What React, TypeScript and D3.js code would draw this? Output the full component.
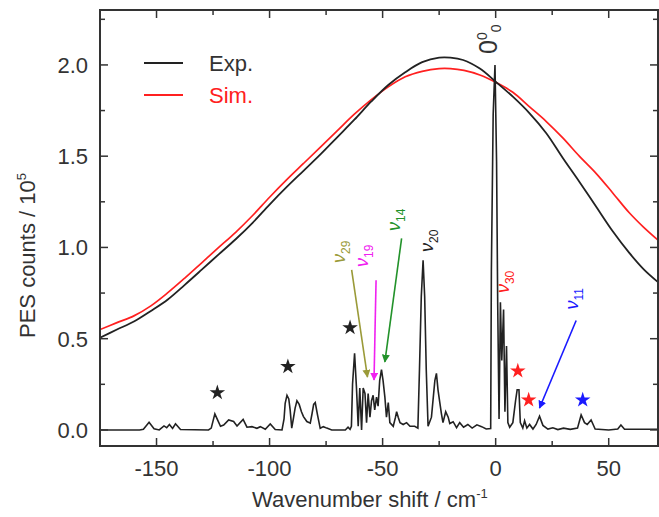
import React from 'react';
import * as d3 from 'd3';

// Axis ticks
const xMajorTicks = [-150, -100, -50, 0, 50];
const xMinorTicks = [-125, -75, -25, 25];
const yMajorTicks = [0, 0.5, 1.0, 1.5, 2.0];
const yMinorTicks = [0.25, 0.75, 1.25, 1.75, 2.25];

// Broad envelopes: [wavenumber shift, counts / 1e5]
const expEnvelope: [number, number][] = [
  [-175, 0.505], [-167.5, 0.55], [-160, 0.594], [-152.5, 0.652], [-145, 0.715], [-137.5, 0.795],
  [-130, 0.878], [-122.5, 0.962], [-115, 1.045], [-107.5, 1.135], [-100, 1.235], [-92.5, 1.33],
  [-85, 1.42], [-77.5, 1.51], [-70, 1.605], [-62.5, 1.7], [-55, 1.8], [-47.5, 1.89],
  [-40, 1.96], [-32.5, 2.015], [-25, 2.04], [-20, 2.04], [-14.4, 2.027], [-7, 1.98],
  [0, 1.908], [7.6, 1.826], [15, 1.735], [22.4, 1.626], [29.7, 1.49], [37, 1.36],
  [44.4, 1.224], [51.7, 1.09], [59.1, 0.97], [65.5, 0.88], [71.8, 0.81],
];

const simEnvelope: [number, number][] = [
  [-175, 0.55], [-167.5, 0.588], [-160, 0.625], [-152.5, 0.68], [-145, 0.752], [-137.5, 0.832],
  [-130, 0.916], [-122.5, 1.0], [-115, 1.083], [-107.5, 1.175], [-100, 1.275], [-92.5, 1.37],
  [-85, 1.46], [-77.5, 1.55], [-70, 1.64], [-62.5, 1.73], [-55, 1.81], [-47.5, 1.88],
  [-40, 1.935], [-32.5, 1.965], [-25, 1.98], [-20, 1.98], [-14, 1.97], [-7, 1.945],
  [0, 1.905], [7.6, 1.85], [15, 1.77], [22.4, 1.69], [29.7, 1.6], [37, 1.5],
  [44.4, 1.406], [51.7, 1.3], [59.1, 1.19], [65.5, 1.11], [71.8, 1.04],
];

// High-resolution photoelectron spectrum
const pesSpectrum: [number, number][] = [
  [-175, 0.0], [-157.5, 0.0], [-155.8, 0.004], [-153.3, 0.042], [-151.1, 0.006], [-148.8, 0.0],
  [-146.7, 0.022], [-145.5, 0.012], [-144.3, 0.03], [-142.9, 0.008], [-141.6, 0.034], [-139.4, 0.002],
  [-127, 0.0], [-125.8, 0.01], [-124.2, 0.088], [-122.8, 0.05], [-121.7, 0.02], [-120.3, 0.027],
  [-118.1, 0.055], [-115.9, 0.046], [-114.4, 0.022], [-111.7, 0.058], [-110.0, 0.015], [-107.8, 0.018],
  [-105.6, 0.009], [-104.1, 0.018], [-101.9, 0.004], [-99.7, 0.033], [-97.5, 0.002], [-94.5, 0.0],
  [-93.6, 0.06], [-93.1, 0.146], [-92.3, 0.19], [-91.5, 0.17], [-90.9, 0.11], [-90.2, 0.01],
  [-89.5, 0.06], [-88.7, 0.12], [-87.9, 0.16], [-86.9, 0.14], [-85.9, 0.1], [-85.0, 0.073],
  [-83.5, 0.046], [-82.0, 0.037], [-81.2, 0.09], [-80.5, 0.14], [-79.8, 0.15], [-78.8, 0.082],
  [-77.6, 0.009], [-76.2, 0.018], [-74.7, 0.01], [-72.5, 0.0], [-66.5, 0.0], [-65.3, 0.015],
  [-64.4, 0.003], [-63.8, 0.02], [-63.3, 0.25], [-62.4, 0.42], [-61.6, 0.24], [-60.8, 0.02],
  [-60.1, 0.23], [-59.3, 0.0], [-58.6, 0.23], [-57.8, 0.2], [-57.1, 0.04], [-56.4, 0.2],
  [-55.6, 0.07], [-54.9, 0.16], [-54.2, 0.19], [-53.5, 0.11], [-52.7, 0.18], [-52.0, 0.13],
  [-51.3, 0.27], [-50.5, 0.33], [-49.8, 0.27], [-49.0, 0.18], [-48.3, 0.07], [-47.5, 0.15],
  [-46.8, 0.04], [-45.3, 0.02], [-44.3, 0.07], [-43.8, 0.1], [-43.1, 0.07], [-42.3, 0.04],
  [-40.9, 0.03], [-39.4, 0.04], [-37.9, 0.02], [-35.8, 0.02], [-34.4, 0.01], [-33.7, 0.33],
  [-32.9, 0.73], [-32.1, 0.93], [-31.4, 0.73], [-30.7, 0.33], [-29.9, 0.02], [-28.4, 0.07],
  [-26.9, 0.27], [-26.2, 0.31], [-25.5, 0.22], [-24.7, 0.15], [-24.0, 0.09], [-23.3, 0.04],
  [-22.1, 0.1], [-21.0, 0.07], [-20.3, 0.035], [-18.8, 0.045], [-17.3, 0.012], [-15.9, 0.04],
  [-14.2, 0.015], [-12.3, 0.03], [-10.4, 0.01], [-8.3, 0.028], [-6.2, 0.018], [-4.2, 0.005],
  [-2.2, 0.008], [-1.9, 0.87], [-1.1, 1.73], [-0.3, 2.0], [0.4, 1.47], [0.9, 0.69],
  [1.5, 0.06], [2.1, 0.7], [2.7, 0.38], [3.5, 0.66], [4.1, 0.1], [4.8, 0.46],
  [5.4, 0.04], [6.2, 0.015], [7.6, 0.04], [8.8, 0.16], [9.5, 0.22], [10.3, 0.22],
  [10.9, 0.04], [12.0, 0.01], [12.8, 0.05], [13.8, 0.01], [15.0, 0.03], [16.5, 0.005],
  [17.9, 0.03], [19.4, 0.075], [20.9, 0.025], [23.1, 0.005], [25.3, 0.012], [27.5, 0.002],
  [30, 0.01], [33, 0.003], [36.2, 0.01], [37.8, 0.082], [39.3, 0.04], [40.5, 0.03],
  [42.2, 0.055], [44, 0.005], [50, 0.0], [54.0, 0.005], [55.4, 0.027], [57, 0.004], [71.8, 0.004],
];

// Star markers: [wavenumber, counts, colour]
const starMarks: [number, number, string][] = [
  [-123.1, 0.204, '#222'],
  [-91.9, 0.347, '#222'],
  [-64.4, 0.56, '#222'],
  [9.8, 0.323, '#ff2020'],
  [14.6, 0.164, '#ff2020'],
  [38.5, 0.164, '#1a1aff'],
];

// Vibrational mode labels: subscript, label anchor, arrow start/end, colour
const modeLabels: { sub: string; at: [number, number]; arrow?: [number, number, number, number]; color: string }[] = [
  { sub: '29', at: [-66.6, 0.915], arrow: [-63.7, 0.877, -56.7, 0.29], color: '#9a9a38' },
  { sub: '19', at: [-56.5, 0.893], arrow: [-52.9, 0.82, -53.8, 0.274], color: '#f020f0' },
  { sub: '14', at: [-42.3, 1.09], arrow: [-41.6, 1.05, -49.0, 0.373], color: '#22922a' },
  { sub: '20', at: [-27.8, 0.975], color: '#222' },
  { sub: '30', at: [5.7, 0.75], color: '#ff2020' },
  { sub: '11', at: [36.2, 0.66], arrow: [35.6, 0.6, 19.4, 0.12], color: '#1a1aff' },
];

const legendItems = [
  { name: 'Exp.', color: '#222', text: '#333' },
  { name: 'Sim.', color: '#ff2020', text: '#ff2020' },
];

const W = 659;
const H = 517;
const FONT = '"Liberation Sans", Arial, sans-serif';
const AXIS = '#333';

export default function App() {
  const x = d3.scaleLinear().domain([-175, 71.8]).range([100, 658]);
  const y = d3.scaleLinear().domain([-0.088, 2.301]).range([446, 10]);
  const [x0, x1] = x.range();
  const [y0, y1] = y.range();

  const line = d3.line<[number, number]>().x((d) => x(d[0])).y((d) => y(d[1]));
  const smooth = d3
    .line<[number, number]>()
    .x((d) => x(d[0]))
    .y((d) => y(d[1]))
    .curve(d3.curveCatmullRom.alpha(0.5));
  const star = d3.symbol().type(d3.symbolStar).size(75)();
  const upright = (vx: number, vy: number) =>
    `translate(${x(vx).toFixed(1)},${y(vy).toFixed(1)}) rotate(-90)`;

  return (
    <svg width={W} height={H} style={{ position: 'absolute', left: 0, top: 0, background: '#fff' }} fontFamily={FONT}>
      <defs>
        <clipPath id="plot">
          <rect x={x0} y={y1} width={x1 - x0} height={y0 - y1} />
        </clipPath>
        {modeLabels.filter((m) => m.arrow).map((m) => (
          <marker key={m.sub} id={`head${m.sub}`} viewBox="0 0 10 10" refX="9" refY="5" markerWidth="8" markerHeight="8" markerUnits="userSpaceOnUse" orient="auto">
            <path d="M0,0 L10,5 L0,10 Z" fill={m.color} />
          </marker>
        ))}
      </defs>

      <g clipPath="url(#plot)">
        <path d={smooth(simEnvelope) || ''} fill="none" stroke="#ff2020" strokeWidth={1.7} />
        <path d={smooth(expEnvelope) || ''} fill="none" stroke="#222" strokeWidth={1.8} />
        <path d={line(pesSpectrum) || ''} fill="none" stroke="#222" strokeWidth={1.6} strokeLinejoin="miter" />
      </g>

      {/* mode annotations */}
      {modeLabels.map((m) => (
        <g key={m.sub}>
          {m.arrow && (
            <line
              x1={x(m.arrow[0])}
              y1={y(m.arrow[1])}
              x2={x(m.arrow[2])}
              y2={y(m.arrow[3])}
              stroke={m.color}
              strokeWidth={1.6}
              markerEnd={`url(#head${m.sub})`}
            />
          )}
          <g transform={upright(m.at[0], m.at[1])}>
            <text x={0} y={0} fill={m.color} fontSize={18}>
              <tspan fontStyle="italic">ν</tspan>
              <tspan fontSize={12} dy={5}>{m.sub}</tspan>
            </text>
          </g>
        </g>
      ))}

      {/* origin band label */}
      <g transform={upright(0.5, 2.06)}>
        <text x={0} y={0} fill="#333" fontSize={25}>
          0<tspan fontSize={14} dy={-10}>0</tspan>
          <tspan fontSize={14} dy={14}>0</tspan>
        </text>
      </g>

      {starMarks.map((s, i) => (
        <path key={i} d={star || ''} transform={`translate(${x(s[0])},${y(s[1])})`} fill={s[2]} />
      ))}

      {/* legend */}
      {legendItems.map((l, i) => (
        <g key={l.name}>
          <line x1={144} x2={183} y1={63 + i * 32} y2={63 + i * 32} stroke={l.color} strokeWidth={1.8} />
          <text x={209} y={71 + i * 32} fontSize={22} fill={l.text}>{l.name}</text>
        </g>
      ))}

      {/* frame */}
      <rect x={x0} y={y1} width={x1 - x0} height={y0 - y1} fill="none" stroke={AXIS} strokeWidth={2} />

      {/* x ticks, bottom and top */}
      {xMajorTicks.map((t) => (
        <g key={`xm${t}`}>
          <line x1={x(t)} x2={x(t)} y1={y0} y2={y0 - 8} stroke={AXIS} strokeWidth={1.5} />
          <line x1={x(t)} x2={x(t)} y1={y1} y2={y1 + 8} stroke={AXIS} strokeWidth={1.5} />
          <text x={x(t)} y={476} textAnchor="middle" fontSize={22} fill="#333">{t}</text>
        </g>
      ))}
      {xMinorTicks.map((t) => (
        <g key={`xn${t}`}>
          <line x1={x(t)} x2={x(t)} y1={y0} y2={y0 - 5} stroke={AXIS} strokeWidth={1.5} />
          <line x1={x(t)} x2={x(t)} y1={y1} y2={y1 + 5} stroke={AXIS} strokeWidth={1.5} />
        </g>
      ))}

      {/* y ticks, left and right */}
      {yMajorTicks.map((t) => (
        <g key={`ym${t}`}>
          <line x1={x0} x2={x0 + 8} y1={y(t)} y2={y(t)} stroke={AXIS} strokeWidth={1.5} />
          <line x1={x1} x2={x1 - 8} y1={y(t)} y2={y(t)} stroke={AXIS} strokeWidth={1.5} />
          <text x={88} y={y(t)} dy="0.36em" textAnchor="end" fontSize={22} fill="#333">{t.toFixed(1)}</text>
        </g>
      ))}
      {yMinorTicks.map((t) => (
        <g key={`yn${t}`}>
          <line x1={x0} x2={x0 + 5} y1={y(t)} y2={y(t)} stroke={AXIS} strokeWidth={1.5} />
          <line x1={x1} x2={x1 - 5} y1={y(t)} y2={y(t)} stroke={AXIS} strokeWidth={1.5} />
        </g>
      ))}

      {/* axis titles */}
      <text x={252} y={507} fontSize={22} fill="#333">
        Wavenumber shift / cm<tspan fontSize={13} dy={-9}>-1</tspan>
      </text>
      <g transform="translate(35,338) rotate(-90)">
        <text x={0} y={0} fontSize={22} fill="#333">
          PES counts / 10<tspan fontSize={13} dy={-9}>5</tspan>
        </text>
      </g>
    </svg>
  );
}
